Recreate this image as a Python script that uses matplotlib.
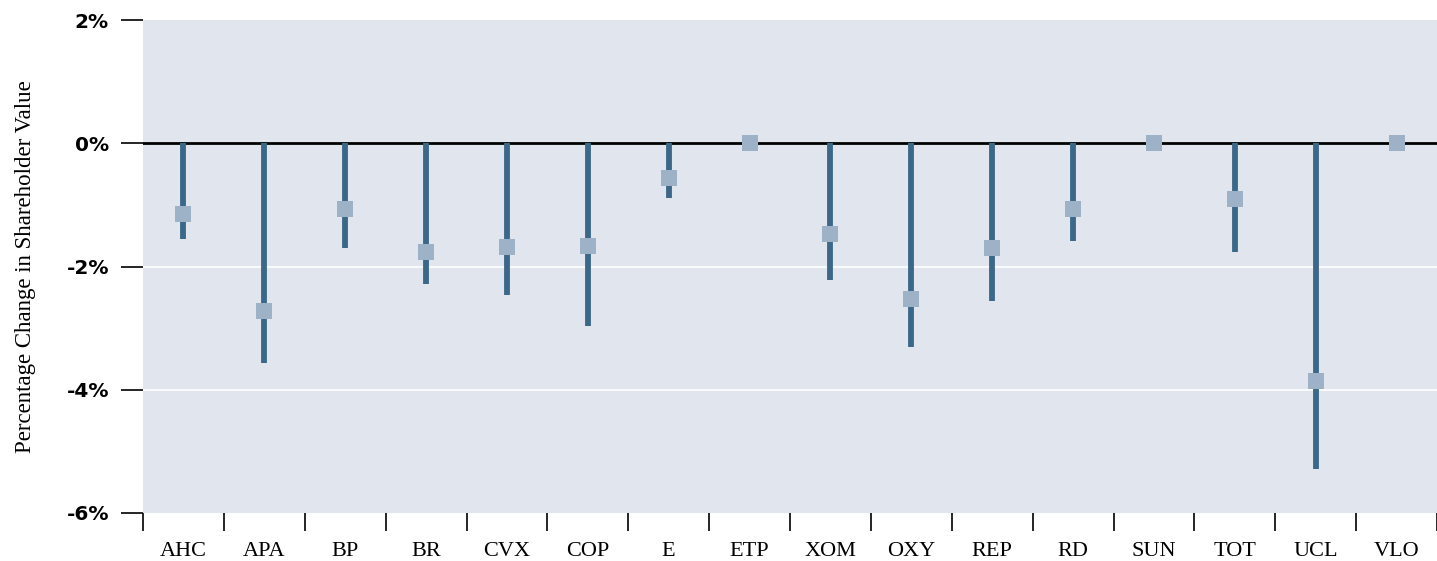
import matplotlib.pyplot as plt
import numpy as np

tickers = ["AHC", "APA", "BP", "BR", "CVX", "COP", "E", "ETP",
           "XOM", "OXY", "REP", "RD", "SUN", "TOT", "UCL", "VLO"]
# lower end of each line (in %)
low_values = [-1.56, -3.56, -1.70, -2.29, -2.47, -2.97, -0.89, 0.0,
              -2.22, -3.30, -2.56, -1.59, 0.0, -1.76, -5.28, 0.0]
# square marker (in %)
point_values = [-1.14, -2.73, -1.07, -1.76, -1.69, -1.66, -0.57, 0.0,
                -1.48, -2.53, -1.70, -1.06, 0.0, -0.91, -3.86, 0.0]

line_color = "#3b6889"
marker_color = "#9db1c7"
bg_color = "#e1e6ee"

fig = plt.figure(figsize=(14.37, 5.61), dpi=100)
ax = fig.add_axes([143/1437, 48/561, 1294/1437, 493/561])
ax.set_facecolor(bg_color)

x = np.arange(len(tickers))

# grid lines
for yv in [-2, -4]:
    ax.axhline(yv, color="white", lw=1.2, zorder=1)
ax.axhline(0, color="black", lw=2, zorder=2)

ax.vlines(x, 0, low_values, color=line_color, lw=4.2, zorder=3)
ax.plot(x, point_values, "s", color=marker_color, markersize=11,
        markeredgewidth=0, zorder=4, linestyle="none")

ax.set_xlim(-0.5, len(tickers) - 0.5)
ax.set_ylim(-6, 2)

for s in ax.spines.values():
    s.set_visible(False)

ax.set_yticks([-6, -4, -2, 0, 2])
ax.set_yticklabels([f"{v}%" for v in [-6, -4, -2, 0, 2]],
                   fontfamily="DejaVu Sans", fontweight="bold", fontsize=14.5)
ax.tick_params(axis="y", length=15.5, width=1.2, color="black", pad=9)

ax.set_xticks(x)
ax.set_xticklabels(tickers, fontfamily="Liberation Serif", fontsize=16)
ax.tick_params(axis="x", which="major", length=0, pad=21)
ax.set_xticks(np.arange(-0.5, len(tickers), 1), minor=True)
ax.tick_params(axis="x", which="minor", length=13, width=1.2, color="black")

ax.set_ylabel("Percentage Change in Shareholder Value",
              fontfamily="Liberation Serif", fontsize=16.5, labelpad=22)

fig.savefig("out.png", dpi=100)
